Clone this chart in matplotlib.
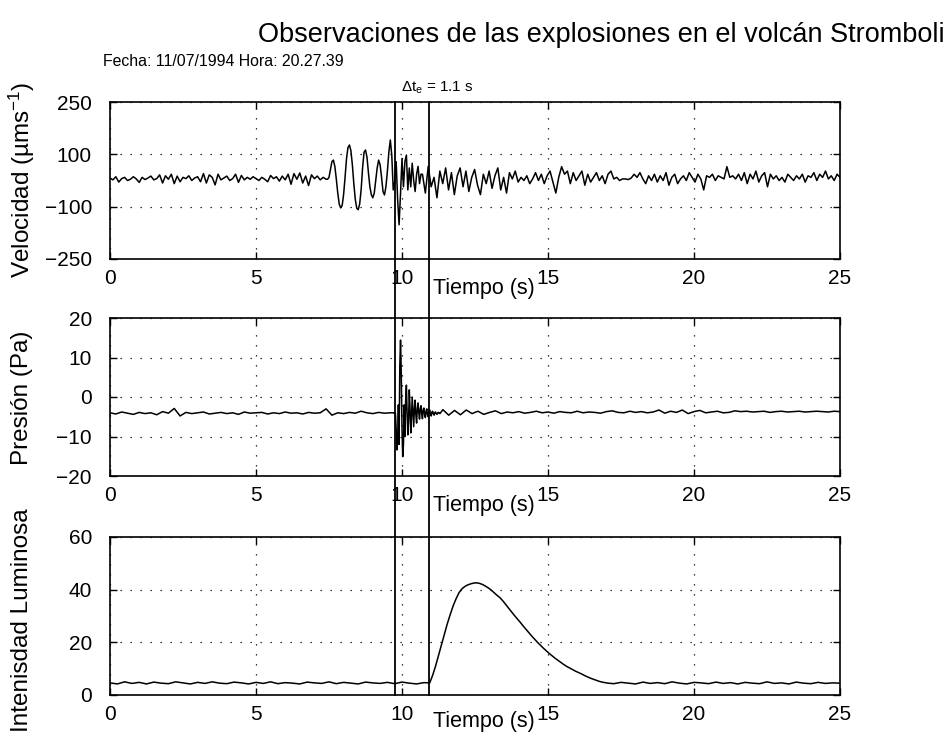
import numpy as np
import matplotlib
matplotlib.use("Agg")
import matplotlib.pyplot as plt
from matplotlib.lines import Line2D
import matplotlib.transforms as mtransforms

plt.rcParams['font.family'] = ['Liberation Sans', 'DejaVu Sans']
plt.rcParams['mathtext.fontset'] = 'custom'
plt.rcParams['mathtext.rm'] = 'Liberation Sans'
plt.rcParams['mathtext.it'] = 'Liberation Sans'
plt.rcParams['axes.unicode_minus'] = True

# ---------------- data ----------------
title = "Observaciones de las explosiones en el volcán Stromboli"
subtitle = "Fecha: 11/07/1994 Hora: 20.27.39"
xlabel = "Tiempo (s)"
ylabels = ["Velocidad (µms$^{-1}$)", "Presión (Pa)", "Intenisdad Luminosa"]
x_ticks = [0, 5, 10, 15, 20, 25]
vel_tick_labels = ["\u2212250", "\u2212100", "100", "250"]
pres_ticks = [-20, -10, 0, 10, 20]
light_ticks = [0, 20, 40, 60]
marker_times = [9.77, 10.92]
dt_label = "Δt$_{\\mathrm{e}}$ = 1.1 s"

# Velocity (µm/s): three segments
vel_pre = [8, 2, 12, -5, 6, 10, 0, 4, 12, 5,
           -6, 10, 3, 8, 14, 2, 6, 18, -8, 15,
           4, 20, -10, 14, -4, 10, 6, 15, 0, 8,
           12, -4, 22, -8, 18, 10, -14, 20, 2, 8,
           14, 0, 6, 20, -6, 16, 2, 10, 4, 12,
           6, 0, 10, 4, -4, 16, 6, 12, -2, 14,
           2, 20, -12, 22, 4, 24, -8, 14, -16, 18,
           6, 14, 2, 10, 4]                       # t = 0.0 .. 7.4
vel_event = [4, 10, 35, 60, 65, 45, 5, -40, -75, -87, -80, -45,
             10, 70, 105, 113, 95, 50, -10, -60, -88, -93, -75, -30,
             40, 90, 97, 75, 25, -20, -45, -55,
             -40, 0, 40, 65, 50, 10, -35, -46, -20, 30, 90, 129,
             80, -30, -5, 60, -60, -141, -40, 70,
             -20, 60, 81, -30, 40, -20, 55, 0, -35, 20, 45, -10, 20]  # t = 7.45 .. 10.65
vel_post = [20, -40, 45, -20, 10, -55, 30, -10, 40, -30,
            25, -45, 15, 40, -20, 30, -35, 10, 35, -15,
            -45, 20, -10, 30, -25, 15, 40, -30, 10, -40,
            25, 5, 30, -5, 10, 0, 15, -10, 5, 25,
            0, 20, -10, 15, 30, -5, -40, 10, 44, 20,
            30, -10, 25, 0, 15, 30, -15, 20, -5, 10,
            25, 0, 15, -10, 20, 30, 5, 10, 0, 5,
            5, 3, 8, 20, 10, 25, 5, -10, 15, 0,
            20, -5, 15, 0, 25, -15, 10, 20, -10, 5,
            15, 0, 25, 10, -5, 20, 5, -30, 15, 10,
            20, 0, 15, 10, 5, 44, 10, 15, 5, 20,
            0, 25, -10, 20, 5, 30, -5, 15, 25, -20,
            20, 5, 15, 0, 10, -5, 20, 10, 0, 15,
            5, 20, -5, 15, 10, 25, 0, 20, 10, 30,
            5, 15, 0, 20, 10]                     # t = 10.7 .. 25.0

# Pressure (Pa)
pres_pre = [-4.0, -4.3, -3.8, -4.1, -4.4, -3.9, -4.2, -4.0, -4.5, -3.7,
            -4.1, -2.9, -4.8, -3.9, -4.2, -4.0, -3.8, -4.3, -4.1, -3.9,
            -4.2, -4.0, -4.4, -3.8, -4.1, -4.0, -3.9, -4.3, -4.0, -4.2,
            -3.8, -4.1, -4.0, -4.3, -3.9, -4.1, -4.0, -3.0, -4.6, -4.0,
            -4.2, -3.9, -4.1, -3.6, -4.0, -4.2, -3.9, -4.1, -4.0]      # t = 0 .. 9.6
pres_event = [-4.0, -4.1, -3.9, -4.2, -8.0, -13.4, -11.0, -2.0, -12.0, 8.0, 14.4, 6.0,
              -8.0, -15.1, -12.0, -2.0, -10.0, -1.0, 3.0, -4.0, -9.6, -6.0,
              1.8, -3.0, -9.1, -5.0, 0.0, -4.0, -7.5, -3.0, -0.8, -4.5,
              -6.6, -3.0, -1.5, -4.0, -5.6, -3.0, -2.2, -4.2, -5.5, -3.2,
              -2.8, -4.5, -5.2, -3.5, -3.0, -4.6, -5.0, -3.6, -3.3, -4.4,
              -4.8, -3.8, -3.6, -4.3, -4.6, -3.9, -3.8, -4.2, -4.4, -4.0,
              -3.9, -4.1, -4.2]                                         # t = 9.7 .. 11.3
pres_post = [-3.2, -4.6, -3.4, -4.5, -3.3, -4.2, -3.6, -4.4, -3.9, -3.5,
             -4.2, -3.8, -4.0, -3.7, -4.1, -3.9, -3.6, -4.0, -3.8, -4.1,
             -3.7, -3.9, -4.0, -3.6, -4.0, -3.8, -3.9, -4.1, -3.7, -3.5,
             -3.9, -4.0, -3.6, -3.9, -3.7, -4.0, -3.8, -3.3, -4.1, -3.6,
             -3.9, -3.3, -4.2, -3.7, -3.4, -4.0, -3.8, -3.6, -4.0, -3.9,
             -3.5, -3.7, -3.6, -3.8, -3.7, -3.6, -3.9, -3.7, -3.6, -3.8,
             -3.7, -3.6, -3.8, -3.7, -3.6, -3.7, -3.8, -3.6, -3.7]      # t = 11.4 .. 25.0

# Light intensity
light_pre = [4.6, 4.2, 5.0, 4.4, 4.8, 4.2, 4.9, 4.5, 4.3, 5.0,
             4.6, 4.2, 4.8, 4.4, 5.0, 4.5, 4.3, 4.9, 4.6, 4.2,
             4.8, 4.4, 5.0, 4.3, 4.7, 4.5, 4.2, 4.9, 4.6, 4.4,
             5.0, 4.3, 4.8, 4.5, 4.2, 4.9, 4.6, 4.4, 4.8, 4.3,
             4.9, 4.5, 4.2, 4.7]                                   # t = 0 .. 10.75
light_event = [4.6, 7.5, 11.0, 15.0, 19.0, 23.0, 27.0, 30.5, 33.8, 36.5,
               38.8, 40.3, 41.2, 41.8, 42.2, 42.5, 42.6, 42.4, 42.0, 41.4,
               40.7, 39.9, 38.9, 37.9, 37.0, 35.8, 34.4, 33.0, 31.6, 30.2,
               28.9, 27.6, 26.2, 24.9, 23.6, 22.3, 21.1, 19.9, 18.8, 17.7,
               16.7, 15.7, 14.8, 13.9, 13.1, 12.3, 11.5, 10.8, 10.2, 9.6,
               9.0, 8.5, 8.0, 7.4, 6.9, 6.4, 6.0, 5.6, 5.2, 4.9,
               4.7, 4.5]                                           # t = 10.95 .. 17.05
light_post = [4.3, 4.8, 4.5, 4.2, 4.9, 4.4, 4.7, 4.3, 5.0, 4.5,
              4.2, 4.8, 4.6, 4.3, 4.9, 4.4, 4.7, 4.2, 4.8, 4.5,
              4.3, 5.0, 4.4, 4.6, 4.2, 4.9, 4.5, 4.3, 4.8, 4.4,
              4.6, 4.5]                                            # t = 17.25 .. 25.0


def seg(values, t0, t1):
    return np.linspace(t0, t1, len(values)), np.asarray(values, float)


def join(*parts):
    t = np.concatenate([p[0] for p in parts])
    v = np.concatenate([p[1] for p in parts])
    return t, v


vel_t, vel_v = join(seg(vel_pre, 0.0, 7.4), seg(vel_event, 7.45, 10.65), seg(vel_post, 10.7, 25.0))
pres_t, pres_v = join(seg(pres_pre, 0.0, 9.6), seg(pres_event, 9.7, 11.3), seg(pres_post, 11.4, 25.0))
light_t, light_v = join(seg(light_pre, 0.0, 10.75), seg(light_event, 10.95, 17.05), seg(light_post, 17.25, 25.0))

# ---------------- figure ----------------
W, H = 945, 740
fig = plt.figure(figsize=(W / 100, H / 100), dpi=100)


def box(l, t, r, b):
    return [l / W, 1 - b / H, (r - l) / W, (b - t) / H]


ax1 = fig.add_axes(box(110, 102, 840, 259))
ax2 = fig.add_axes(box(110, 318, 840, 476))
ax3 = fig.add_axes(box(110, 537, 840, 695))
axes = [ax1, ax2, ax3]

ax1.plot(vel_t, vel_v, color='black', lw=1.1)
ax2.plot(pres_t, pres_v, color='black', lw=1.1)
ax3.plot(light_t, light_v, color='black', lw=1.1)

ax1.set_ylim(-250, 250)
ax1.set_yticks(np.linspace(-250, 250, 4))
ax1.set_yticklabels(vel_tick_labels)
ax2.set_ylim(-20, 20)
ax2.set_yticks(pres_ticks)
ax3.set_ylim(0, 60)
ax3.set_yticks(light_ticks)

label_y = [-0.185, -0.185, -0.17]
for ax, yl, ly in zip(axes, ylabels, label_y):
    ax.set_xlim(0, 25)
    ax.set_xticks(x_ticks)
    ax.grid(True, color='black', linestyle=(0, (1, 7)), lw=0.9)
    ax.tick_params(axis='both', direction='in', length=5, width=1,
                   top=True, right=True, labelsize=15, colors='black')
    ax.tick_params(axis='y', pad=13)
    ax.tick_params(axis='x', pad=7)
    for sp in ax.spines.values():
        sp.set_linewidth(1.2)
    ax.text(0.512, ly, xlabel, transform=ax.transAxes, ha='center', va='center',
            fontsize=15.5)

# y labels
fig.text(22 / W, 1 - 180 / H, ylabels[0], rotation=90, ha='center', va='center', fontsize=17.5)
fig.text(22 / W, 1 - 398 / H, ylabels[1], rotation=90, ha='center', va='center', fontsize=17.5)
fig.text(22 / W, 1 - 620 / H, ylabels[2], rotation=90, ha='center', va='center', fontsize=17.5)

# vertical event markers spanning all panels
trans = mtransforms.blended_transform_factory(ax1.transData, fig.transFigure)
y_top = 1 - 102 / H
y_bot = 1 - 695 / H
for tm in marker_times:
    fig.add_artist(Line2D([tm, tm], [y_bot, y_top], transform=trans, color='black', lw=1.3))

fig.text(437 / W, 1 - 88 / H, dt_label, ha='center', va='center', fontsize=11)

fig.text(601 / W, 1 - 35 / H, title, ha='center', va='center', fontsize=19.5)
fig.text(103 / W, 1 - 62 / H, subtitle, ha='left', va='center', fontsize=11.4)

fig.savefig("out.png", dpi=100)
